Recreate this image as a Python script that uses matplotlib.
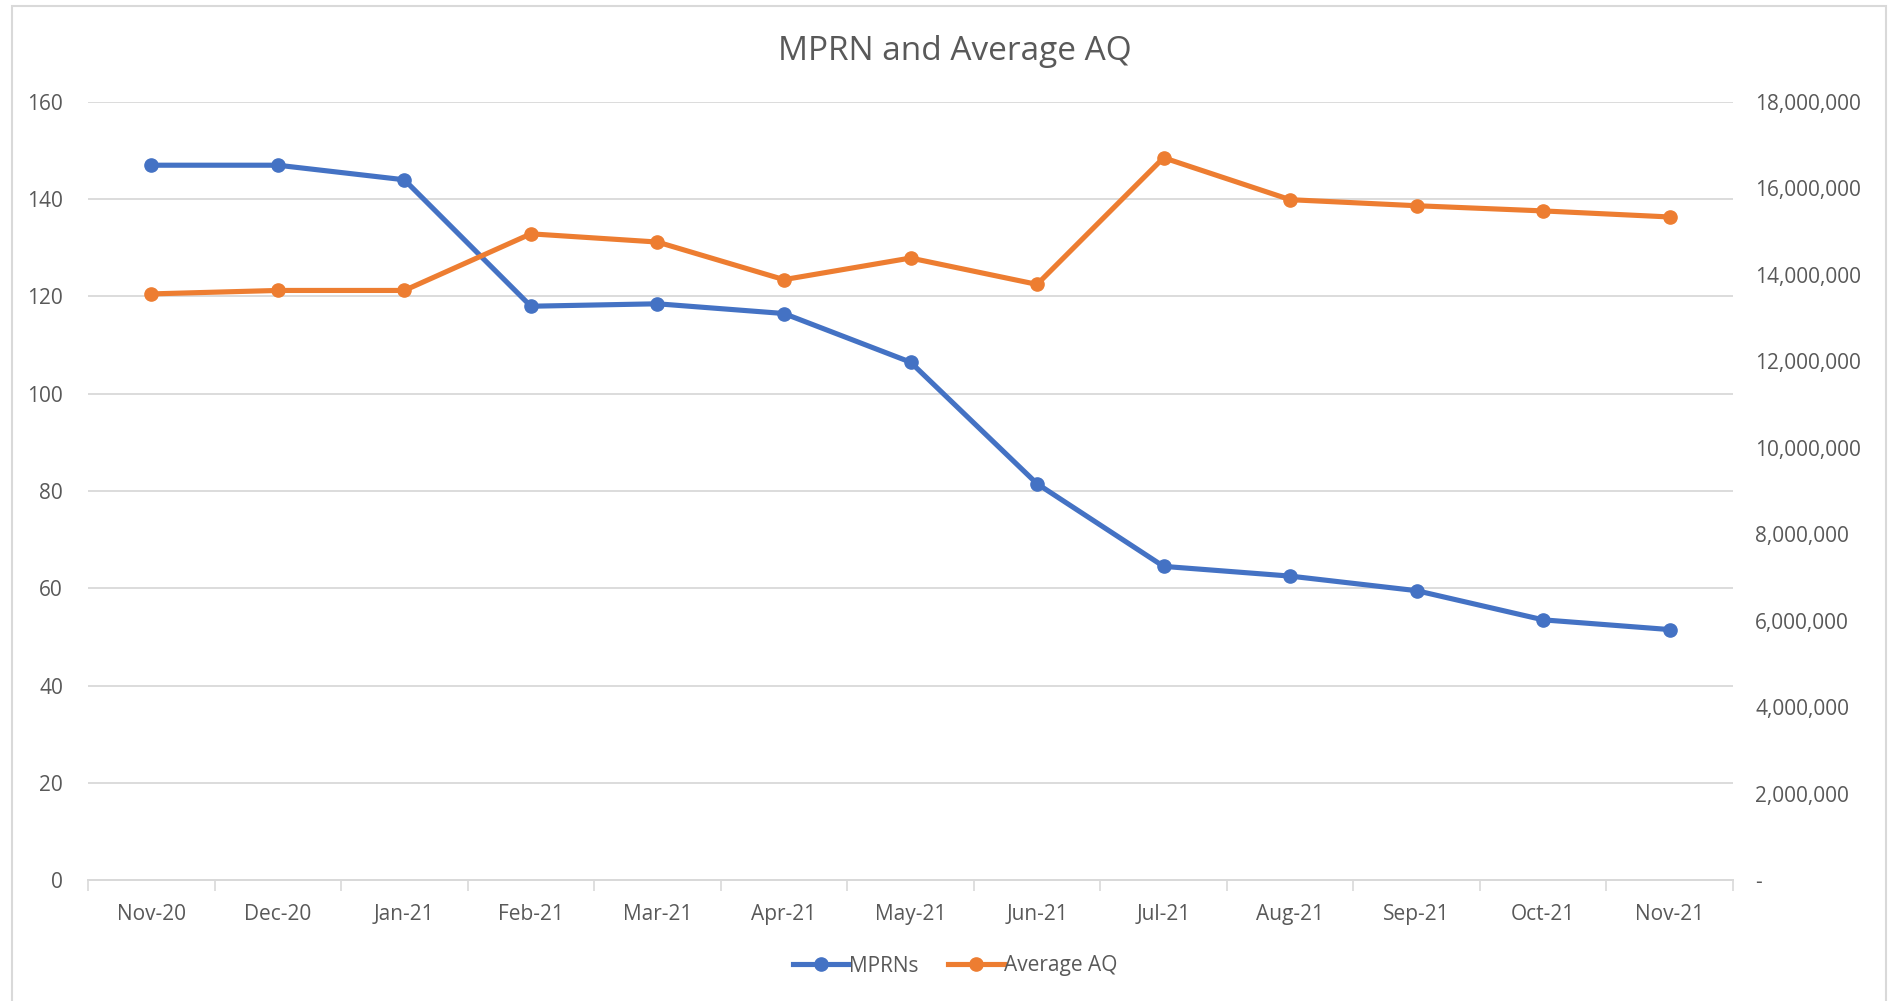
import matplotlib
matplotlib.use("Agg")
import matplotlib.pyplot as plt
from matplotlib.ticker import FuncFormatter, MultipleLocator
from matplotlib.patches import Rectangle

months = ["Nov-20", "Dec-20", "Jan-21", "Feb-21", "Mar-21", "Apr-21", "May-21",
          "Jun-21", "Jul-21", "Aug-21", "Sep-21", "Oct-21", "Nov-21"]
mprns = [147, 147, 144, 118, 118.5, 116.5, 106.5, 81.5, 64.5, 62.5, 59.5, 53.5, 51.5]
avg_aq = [13560000, 13640000, 13640000, 14950000, 14760000, 13890000, 14390000,
          13780000, 16710000, 15740000, 15600000, 15480000, 15340000]

BLUE = "#4472C4"
ORANGE = "#ED7D31"
GRID = "#D9D9D9"
TXT = "#595959"

plt.rcParams['font.family'] = ['Open Sans', 'DejaVu Sans']

fig = plt.figure(figsize=(18.95, 10.01), dpi=100)
fig.patch.set_facecolor("white")
fig.patches.append(Rectangle((12/1895, -0.01), (1886-12)/1895, 1.0 - 6/1001 + 0.01,
                             transform=fig.transFigure, fill=False,
                             edgecolor=GRID, linewidth=1.5))

ax = fig.add_axes([88/1895, 1-880/1001, (1733-88)/1895, (880-102)/1001])
ax2 = ax.twinx()

x = list(range(len(months)))
l1, = ax.plot(x, mprns, color=BLUE, lw=3.7, marker='o', ms=9.5, label="MPRNs", zorder=3)
l2, = ax2.plot(x, avg_aq, color=ORANGE, lw=3.7, marker='o', ms=9.5, label="Average AQ", zorder=3)

ax.set_xlim(-0.5, len(months) - 0.5)
ax.set_ylim(0, 160)
ax.yaxis.set_major_locator(MultipleLocator(20))
ax2.set_ylim(0, 18000000)
ax2.yaxis.set_major_locator(MultipleLocator(2000000))
ax2.yaxis.set_major_formatter(FuncFormatter(lambda v, p: "-" if v == 0 else f"{int(v):,}"))

ax.set_xticks(x)
ax.set_xticklabels(months)
ax.set_xticks([i - 0.5 for i in range(len(months) + 1)], minor=True)
ax.tick_params(axis='x', which='major', length=0, pad=17, labelsize=15, labelcolor=TXT)
ax.tick_params(axis='x', which='minor', length=8, width=1.2, color=GRID)
ax.tick_params(axis='y', length=0, pad=18, labelsize=15, labelcolor=TXT)
ax2.tick_params(axis='y', length=0, pad=16, labelsize=15, labelcolor=TXT)

ax.grid(axis='y', color=GRID, lw=1.3)
ax.set_axisbelow(True)
for a in (ax, ax2):
    for s in ('top', 'left', 'right'):
        a.spines[s].set_visible(False)
    a.spines['bottom'].set_color(GRID)
    a.spines['bottom'].set_linewidth(1.3)

fig.text(955/1895, 1-52/1001, "MPRN and Average AQ", ha='center', va='center',
         fontsize=24, color=TXT)

fig.legend(handles=[l1, l2], loc='center', bbox_to_anchor=(955/1895, 1-966/1001),
           ncol=2, frameon=False, fontsize=15, labelcolor=TXT, handlelength=2.7,
           handletextpad=0.0, columnspacing=1.4)

fig.savefig("out.png", dpi=100, facecolor="white")
